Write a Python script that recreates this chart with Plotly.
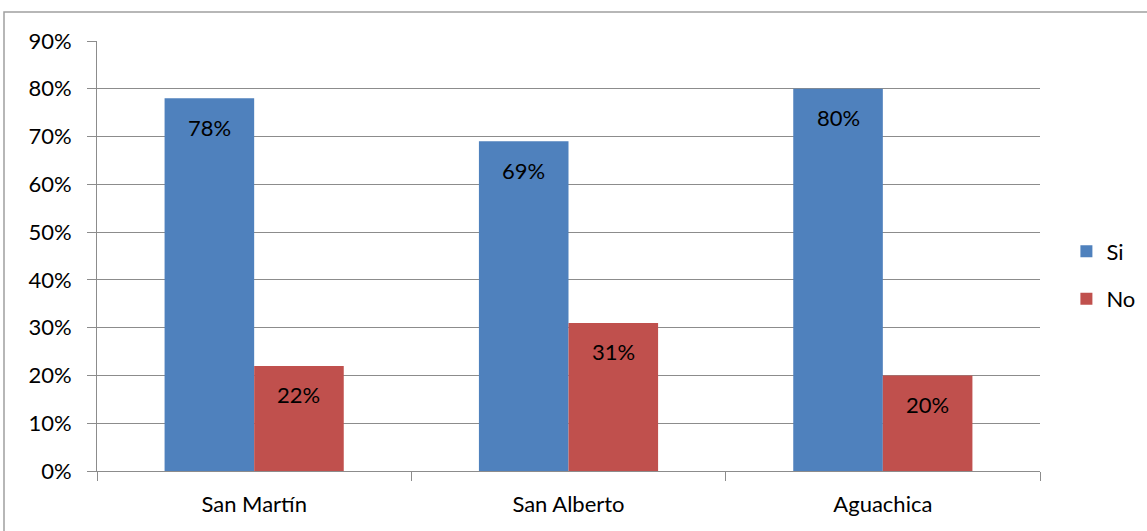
import plotly.graph_objects as go

categories = ["San Martín", "San Alberto", "Aguachica"]
si_values = [0.78, 0.69, 0.80]
no_values = [0.22, 0.31, 0.20]
series_names = ["Si", "No"]
colors = ["#4F81BD", "#C0504D"]

W, H = 1147, 531
ML, MR, MT, MB = 97, 107, 41, 60
plot_w = W - ML - MR
bargap = 0.43
bar_w = plot_w / len(categories) * (1 - bargap) / 2
FONT = "Lato"
FS = 22

fig = go.Figure()
for name, vals, col in zip(series_names, [si_values, no_values], colors):
    fig.add_trace(go.Bar(x=categories, y=vals, name=name, marker_color=col,
                         marker_line_width=0, legendgroup=name))

annotations = []
for i, vals in enumerate([si_values, no_values]):
    shift = (i - 0.5) * bar_w
    for c, v in zip(categories, vals):
        annotations.append(dict(x=c, y=v, text=f"{round(v*100)}%", showarrow=False,
                                xshift=shift, yshift=-29, yanchor="middle",
                                font=dict(family=FONT, size=FS, color="#000000")))

fig.update_layout(
    width=W, height=H,
    margin=dict(l=ML, r=MR, t=MT, b=MB, autoexpand=False),
    paper_bgcolor="white", plot_bgcolor="white",
    barmode="group", bargap=bargap, bargroupgap=0,
    font=dict(family=FONT, size=FS, color="#000000"),
    legend=dict(x=1.028, y=0.455, xanchor="left", yanchor="middle",
                font=dict(size=FS), tracegroupgap=16, itemwidth=30,
                traceorder="grouped"),
    annotations=annotations,
    shapes=[dict(type="rect", xref="paper", yref="paper",
                 x0=(4 - ML) / plot_w, x1=(1160 - ML) / plot_w,
                 y0=(H - MB - 560) / (H - MT - MB), y1=(H - MB - 12) / (H - MT - MB),
                 line=dict(color="#A0A0A0", width=1.5), layer="below")],
)
fig.update_yaxes(range=[0, 0.9], dtick=0.1, tickformat=".0%", showgrid=True,
                 gridcolor="#8C8C8C", gridwidth=1, showline=True, linecolor="#8C8C8C",
                 ticks="outside", ticklen=9, tickcolor="#8C8C8C", zeroline=False,
                 ticklabelstandoff=11)
fig.update_xaxes(showline=True, linecolor="#8C8C8C", ticks="outside", ticklen=9,
                 tickcolor="#8C8C8C", tickson="boundaries", showgrid=False,
                 ticklabelstandoff=14)

fig.write_html("out.html")
